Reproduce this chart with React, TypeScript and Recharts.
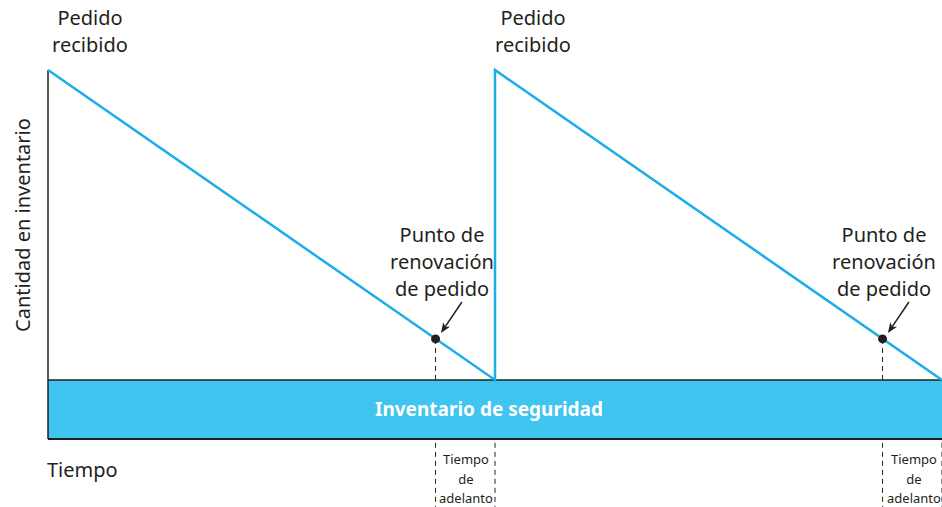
import {
  ComposedChart,
  Line,
  ReferenceArea,
  ReferenceDot,
  ReferenceLine,
  XAxis,
  YAxis
} from "recharts";

// tiempo (unidades de ciclo) e inventario
const stockPoints = [
  { t: 0, inv: 125 },
  { t: 10, inv: 20 },
  { t: 10, inv: 125 },
  { t: 20, inv: 20 }
];
const safetyStock = 20;
const reorderTimes = [8.67, 18.67];
const reorderLevel = 33.9;
const receiptTimes = [10, 20];
const orderLabels = ["Pedido", "recibido"];
const reorderLabels = ["Punto de", "renovación", "de pedido"];
const leadLabels = ["Tiempo", "de", "adelanto"];

const INK = "#231f20";
const BLUE = "#1aade8";
const BAND = "#40c4f0";
const FONT = "'Noto Sans', sans-serif";

const W = 942;
const H = 507;

const Arrow = (p: any) => {
  const { x1, y1, x2, y2 } = p;
  const a = Math.atan2(y2 - y1, x2 - x1);
  const len = 11;
  const spread = 0.38;
  const pA = [x2 - len * Math.cos(a - spread), y2 - len * Math.sin(a - spread)];
  const pB = [x2 - len * Math.cos(a + spread), y2 - len * Math.sin(a + spread)];
  const bx = x2 - len * 0.7 * Math.cos(a);
  const by = y2 - len * 0.7 * Math.sin(a);
  return (
    <g>
      <line x1={x1} y1={y1} x2={bx} y2={by} stroke={INK} strokeWidth={1.5} />
      <polygon
        points={`${x2},${y2} ${pA[0]},${pA[1]} ${bx},${by} ${pB[0]},${pB[1]}`}
        fill={INK}
      />
    </g>
  );
};

function TextBlock({
  lines,
  x,
  y,
  size,
  lh,
  align = "center"
}: {
  lines: string[];
  x: number;
  y: number;
  size: number;
  lh: number;
  align?: "center" | "left";
}) {
  return (
    <div
      style={{
        position: "absolute",
        left: align === "center" ? x - 100 : x,
        top: y,
        width: 200,
        textAlign: align,
        fontFamily: FONT,
        fontSize: size,
        lineHeight: `${lh}px`,
        color: INK,
        whiteSpace: "nowrap"
      }}
    >
      {lines.map((l) => (
        <div key={l}>{l}</div>
      ))}
    </div>
  );
}

export default function App() {
  return (
    <div style={{ position: "absolute", left: 0, top: 0, width: W, height: H, background: "#fff" }}>
      <ComposedChart
        width={W}
        height={H}
        data={stockPoints}
        margin={{ top: 70, right: 0, bottom: 68, left: 48 }}
      >
        <XAxis type="number" dataKey="t" domain={[0, 20]} hide />
        <YAxis type="number" domain={[0, 125]} hide />
        <ReferenceArea
          x1={0}
          x2={20}
          y1={0}
          y2={safetyStock}
          fill={BAND}
          fillOpacity={1}
          stroke="none"
          label={{
            value: "Inventario de seguridad",
            position: "center",
            fill: "#fff",
            fontFamily: FONT,
            fontWeight: 700,
            fontSize: 19,
            dx: -6
          }}
        />
        <ReferenceLine y={safetyStock} stroke={INK} strokeWidth={1.5} />
        <ReferenceLine y={0} stroke={INK} strokeWidth={2} />
        <ReferenceLine
          segment={[{ x: 0, y: 0 }, { x: 0, y: 125 }]}
          stroke={INK}
          strokeWidth={1.5}
        />
        {reorderTimes.map((t) => (
          <ReferenceLine
            key={`d${t}`}
            segment={[{ x: t, y: reorderLevel }, { x: t, y: safetyStock }]}
            stroke={INK}
            strokeDasharray="5 4"
          />
        ))}
        {reorderTimes.concat(receiptTimes).map((t) => (
          <ReferenceLine
            key={`b${t}`}
            segment={[{ x: t, y: -1.3 }, { x: t, y: -23 }]}
            stroke={INK}
            strokeDasharray="5 4"
            ifOverflow="visible"
          />
        ))}
        <Line
          type="linear"
          dataKey="inv"
          stroke={BLUE}
          strokeWidth={2.5}
          dot={false}
          activeDot={false}
          isAnimationActive={false}
        />
        {reorderTimes.map((t) => (
          <ReferenceLine
            key={`a${t}`}
            segment={[
              { x: t + 0.59, y: reorderLevel + 12.5 },
              { x: t + 0.12, y: reorderLevel + 2 }
            ]}
            shape={Arrow}
          />
        ))}
        {reorderTimes.map((t) => (
          <ReferenceDot
            key={`p${t}`}
            x={t}
            y={reorderLevel}
            r={4.5}
            fill={INK}
            stroke="none"
          />
        ))}
      </ComposedChart>

      <TextBlock lines={orderLabels} x={90} y={4} size={20} lh={27} />
      <TextBlock lines={orderLabels} x={533} y={4} size={20} lh={27} />
      <TextBlock lines={reorderLabels} x={442} y={221} size={20} lh={27} />
      <TextBlock lines={reorderLabels} x={884} y={221} size={20} lh={27} />
      <TextBlock lines={leadLabels} x={466} y={450} size={13} lh={19.5} />
      <TextBlock lines={leadLabels} x={914} y={450} size={13} lh={19.5} />
      <TextBlock lines={["Tiempo"]} x={47} y={456} size={20} lh={27} align="left" />
      <div
        style={{
          position: "absolute",
          left: 22,
          top: 225,
          transform: "translate(-50%, -50%) rotate(-90deg)",
          fontFamily: FONT,
          fontSize: 20,
          color: INK,
          whiteSpace: "nowrap"
        }}
      >
        Cantidad en inventario
      </div>
    </div>
  );
}
